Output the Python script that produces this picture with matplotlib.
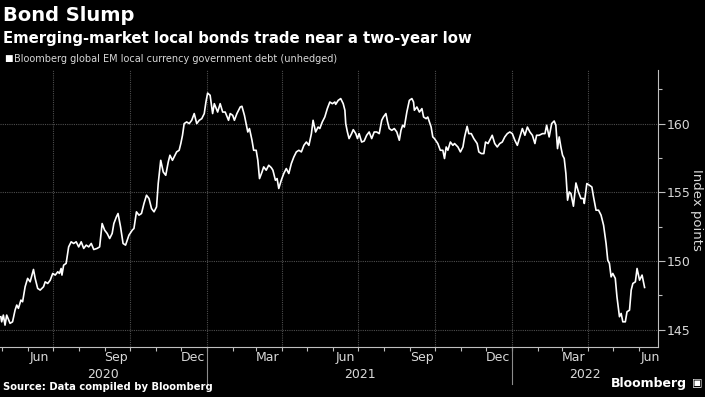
import numpy as np
import pandas as pd
import matplotlib
matplotlib.use("Agg")
import matplotlib.pyplot as plt
import matplotlib.dates as mdates
import matplotlib.transforms as mtransforms
from matplotlib.ticker import MultipleLocator

# Bloomberg global EM local currency government debt (unhedged), index points
dates_2020 = [
    "2020-04-30", "2020-05-01", "2020-05-03", "2020-05-05", "2020-05-07", "2020-05-11", "2020-05-14",
    "2020-05-17", "2020-05-19", "2020-05-21", "2020-05-24", "2020-05-26", "2020-05-29", "2020-06-01",
    "2020-06-04", "2020-06-08", "2020-06-10", "2020-06-13", "2020-06-16", "2020-06-20", "2020-06-22",
    "2020-06-25", "2020-06-28", "2020-07-01", "2020-07-04", "2020-07-07", "2020-07-09", "2020-07-11",
    "2020-07-12", "2020-07-14", "2020-07-17", "2020-07-20", "2020-07-23", "2020-07-26", "2020-07-29",
    "2020-08-01", "2020-08-04", "2020-08-07", "2020-08-10", "2020-08-13", "2020-08-16", "2020-08-19",
    "2020-08-23", "2020-08-26", "2020-08-29", "2020-09-01", "2020-09-04", "2020-09-07", "2020-09-10",
    "2020-09-12", "2020-09-15", "2020-09-17", "2020-09-20", "2020-09-23", "2020-09-26", "2020-09-30",
    "2020-10-04", "2020-10-06", "2020-10-09", "2020-10-12", "2020-10-15", "2020-10-18", "2020-10-21",
    "2020-10-24", "2020-10-27", "2020-10-30", "2020-11-02", "2020-11-04", "2020-11-07", "2020-11-10",
    "2020-11-13", "2020-11-16", "2020-11-18", "2020-11-21", "2020-11-24", "2020-11-26", "2020-11-29",
    "2020-12-01", "2020-12-03", "2020-12-05", "2020-12-08", "2020-12-11", "2020-12-14", "2020-12-17",
    "2020-12-20", "2020-12-23", "2020-12-26", "2020-12-29", "2020-12-31",
]
values_2020 = [
    145.95, 145.58, 146.07, 145.34, 146.07, 145.47, 145.58,
    146.43, 146.80, 146.56, 147.16, 147.04, 148.13, 148.74,
    148.49, 149.39, 148.74, 148.01, 147.89, 148.13, 148.49,
    148.37, 148.61, 149.10, 148.98, 149.22, 149.10, 149.46,
    148.98, 149.70, 149.83, 151.03, 151.40, 151.28, 151.40,
    151.03, 151.40, 150.92, 151.16, 151.03, 151.28, 150.84,
    150.92, 151.03, 152.73, 152.25, 152.01, 151.64, 152.01,
    152.73, 153.21, 153.46, 152.49, 151.28, 151.16, 151.88,
    152.25, 152.37, 153.58, 153.34, 153.46, 154.19, 154.79,
    154.55, 153.82, 153.58, 153.94, 155.64, 157.33, 156.48,
    156.24, 157.21, 157.70, 157.33, 157.70, 157.94, 158.06,
    158.55, 159.15, 160.00, 160.12, 160.00, 160.24, 160.73,
    160.00, 160.24, 160.36, 160.73, 161.57,
]
dates_2021 = [
    "2021-01-02", "2021-01-05", "2021-01-08", "2021-01-10", "2021-01-14", "2021-01-17", "2021-01-20",
    "2021-01-23", "2021-01-27", "2021-01-29", "2021-02-01", "2021-02-03", "2021-02-06", "2021-02-10",
    "2021-02-12", "2021-02-15", "2021-02-17", "2021-02-19", "2021-02-21", "2021-02-24", "2021-02-26",
    "2021-03-01", "2021-03-03", "2021-03-05", "2021-03-08", "2021-03-10", "2021-03-13", "2021-03-16",
    "2021-03-19", "2021-03-21", "2021-03-24", "2021-03-26", "2021-03-28", "2021-03-31", "2021-04-03",
    "2021-04-06", "2021-04-09", "2021-04-12", "2021-04-15", "2021-04-18", "2021-04-21", "2021-04-24",
    "2021-04-27", "2021-04-30", "2021-05-03", "2021-05-06", "2021-05-08", "2021-05-11", "2021-05-14",
    "2021-05-16", "2021-05-19", "2021-05-22", "2021-05-25", "2021-05-28", "2021-05-31", "2021-06-03",
    "2021-06-04", "2021-06-07", "2021-06-10", "2021-06-13", "2021-06-15", "2021-06-16", "2021-06-18",
    "2021-06-20", "2021-06-23", "2021-06-25", "2021-06-28", "2021-06-30", "2021-07-02", "2021-07-05",
    "2021-07-08", "2021-07-11", "2021-07-14", "2021-07-17", "2021-07-20", "2021-07-23", "2021-07-26",
    "2021-07-29", "2021-07-31", "2021-08-03", "2021-08-05", "2021-08-07", "2021-08-10", "2021-08-13",
    "2021-08-16", "2021-08-19", "2021-08-21", "2021-08-23", "2021-08-25", "2021-08-28", "2021-08-31",
    "2021-09-03", "2021-09-05", "2021-09-06", "2021-09-09", "2021-09-12", "2021-09-15", "2021-09-17",
    "2021-09-20", "2021-09-22", "2021-09-26", "2021-09-28", "2021-09-30", "2021-10-04", "2021-10-07",
    "2021-10-10", "2021-10-12", "2021-10-14", "2021-10-16", "2021-10-19", "2021-10-22", "2021-10-24",
    "2021-10-28", "2021-10-31", "2021-11-03", "2021-11-05", "2021-11-08", "2021-11-10", "2021-11-13",
    "2021-11-16", "2021-11-20", "2021-11-22", "2021-11-25", "2021-11-28", "2021-11-30", "2021-12-03",
    "2021-12-06", "2021-12-08", "2021-12-11", "2021-12-14", "2021-12-17", "2021-12-20", "2021-12-23",
    "2021-12-26", "2021-12-29",
]
values_2021 = [
    162.22, 162.06, 160.73, 161.45, 160.84, 161.45, 160.84,
    160.84, 160.24, 160.73, 160.60, 160.24, 160.73, 161.21,
    161.26, 160.60, 160.00, 159.39, 159.64, 158.79, 158.06,
    158.06, 157.33, 156.00, 156.48, 156.85, 156.61, 156.97,
    156.80, 156.61, 155.88, 156.00, 155.28, 155.88, 156.37,
    156.73, 156.37, 157.09, 157.57, 157.94, 158.06, 157.94,
    158.42, 158.66, 158.42, 159.27, 160.24, 159.39, 159.75,
    159.64, 160.12, 160.48, 161.09, 161.57, 161.45, 161.57,
    161.40, 161.69, 161.82, 161.45, 160.97, 160.00, 159.39,
    158.91, 159.27, 159.56, 159.27, 158.91, 159.27, 158.66,
    158.73, 159.15, 159.39, 158.91, 159.39, 159.39, 159.27,
    160.24, 160.48, 160.73, 160.12, 159.64, 159.51, 159.64,
    159.39, 158.79, 159.51, 159.88, 159.75, 160.84, 161.69,
    161.82, 161.57, 160.97, 161.21, 160.84, 161.09, 160.48,
    160.36, 160.48, 159.75, 159.03, 158.91, 158.55, 158.06,
    158.06, 157.46, 158.30, 158.06, 158.66, 158.42, 158.55,
    158.30, 157.94, 158.30, 159.03, 159.80, 159.27, 159.27,
    158.91, 158.55, 157.94, 157.82, 157.82, 158.66, 158.55,
    158.91, 159.15, 158.55, 158.30, 158.55, 158.66, 159.03,
    159.27, 159.39,
]
dates_2022 = [
    "2022-01-01", "2022-01-04", "2022-01-07", "2022-01-10", "2022-01-13", "2022-01-16", "2022-01-19",
    "2022-01-22", "2022-01-25", "2022-01-28", "2022-01-30", "2022-02-02", "2022-02-06", "2022-02-09",
    "2022-02-11", "2022-02-14", "2022-02-17", "2022-02-20", "2022-02-22", "2022-02-24", "2022-02-26",
    "2022-02-28", "2022-03-02", "2022-03-04", "2022-03-06", "2022-03-08", "2022-03-10", "2022-03-12",
    "2022-03-15", "2022-03-18", "2022-03-21", "2022-03-24", "2022-03-27", "2022-03-28", "2022-03-31",
    "2022-04-03", "2022-04-06", "2022-04-08", "2022-04-11", "2022-04-14", "2022-04-17", "2022-04-20",
    "2022-04-23", "2022-04-25", "2022-04-27", "2022-04-29", "2022-05-01", "2022-05-04", "2022-05-06",
    "2022-05-09", "2022-05-11", "2022-05-13", "2022-05-16", "2022-05-18", "2022-05-21", "2022-05-23",
    "2022-05-25", "2022-05-28", "2022-05-30", "2022-06-02", "2022-06-05", "2022-06-08",
]
values_2022 = [
    159.27, 158.79, 158.42, 159.03, 159.64, 159.15, 159.75,
    159.39, 159.15, 158.55, 159.15, 159.15, 159.27, 159.27,
    159.88, 159.03, 160.00, 160.19, 159.88, 158.18, 159.03,
    158.30, 157.70, 157.46, 156.37, 154.43, 155.03, 154.91,
    153.99, 155.68, 155.03, 154.55, 154.55, 154.19, 155.64,
    155.52, 155.39, 154.67, 153.70, 153.70, 153.34, 152.61,
    151.28, 150.07, 149.83, 148.85, 149.10, 148.74, 147.40,
    145.95, 146.19, 145.58, 145.58, 146.31, 146.43, 147.89,
    148.37, 148.49, 149.46, 148.61, 148.98, 148.08,
]

x_start, x_end = "2020-04-29", "2022-06-24"
y_min, y_max = 143.75, 163.9
y_ticks = [145, 150, 155, 160]
years = [2020, 2021, 2022]

dates = pd.to_datetime(dates_2020 + dates_2021 + dates_2022)
values = np.array(values_2020 + values_2021 + values_2022)

BG = "black"
FG = "#d9d9d9"
GRID = "#4d4d4d"

fig = plt.figure(figsize=(7.05, 3.97), dpi=100, facecolor=BG)
ax = fig.add_axes([0.0, 0.126, 0.9333, 0.6977], facecolor=BG)

ax.plot(dates, values, color="white", linewidth=1.2, zorder=3)

x0, x1 = pd.Timestamp(x_start), pd.Timestamp(x_end)
ax.set_xlim(x0, x1)
ax.set_ylim(y_min, y_max)

# grid: horizontal at major y ticks, vertical at quarter starts
for yv in y_ticks:
    ax.axhline(yv, color=GRID, lw=0.8, ls=(0, (1, 1)), zorder=1)
for q in pd.date_range(x0, x1, freq="QS"):
    ax.axvline(q, color=GRID, lw=0.8, ls=(0, (1, 1)), zorder=1)

for side in ["top", "left"]:
    ax.spines[side].set_visible(False)
ax.spines["right"].set_color("#bfbfbf")
ax.spines["bottom"].set_color("#bfbfbf")

# y axis on the right
ax.yaxis.tick_right()
ax.set_yticks(y_ticks)
ax.yaxis.set_minor_locator(MultipleLocator(2.5))
ax.tick_params(axis="y", which="major", colors="#bfbfbf", length=5, width=0.8, pad=1,
               labelcolor=FG, labelsize=9)
ax.tick_params(axis="y", which="minor", colors="#bfbfbf", length=3, width=0.8)
fig.text(0.988, 0.47, "Index points", color=FG, fontsize=9.5, rotation=270,
         ha="center", va="center")

# x axis: tick marks at month boundaries, labels mid-month every quarter
ax.xaxis.set_major_locator(mdates.MonthLocator(bymonthday=1))
ax.xaxis.set_major_formatter(plt.NullFormatter())
ax.xaxis.set_minor_locator(mdates.MonthLocator(bymonth=(3, 6, 9, 12), bymonthday=15))
ax.xaxis.set_minor_formatter(mdates.DateFormatter("%b"))
ax.tick_params(axis="x", which="major", colors="#bfbfbf", length=3, width=0.8)
ax.tick_params(axis="x", which="minor", length=0, pad=3, labelcolor=FG, labelsize=9)

# year labels and separators
trans = mtransforms.blended_transform_factory(ax.transData, ax.transAxes)
for yr in years:
    a = max(pd.Timestamp(f"{yr}-01-01"), x0)
    b = min(pd.Timestamp(f"{yr + 1}-01-01"), x1)
    mid = a + (b - a) / 2
    ax.text(mid, -0.098, str(yr), transform=trans, ha="center", va="center",
            color=FG, fontsize=9)
    if pd.Timestamp(f"{yr}-01-01") > x0:
        ax.plot([a, a], [0, -0.135], transform=trans, color="#8c8c8c", lw=0.8, clip_on=False)

# titles
fig.text(0.004, 0.985, "Bond Slump", color="white", fontsize=14, fontweight="bold",
         ha="left", va="top")
fig.text(0.004, 0.922, "Emerging-market local bonds trade near a two-year low", color="white",
         fontsize=10.7, fontweight="bold", ha="left", va="top")
fig.text(0.006, 0.852, "\u25A0", color="white", fontsize=6.5, ha="left", va="center")
fig.text(0.02, 0.852, "Bloomberg global EM local currency government debt (unhedged)",
         color=FG, fontsize=7, ha="left", va="center")

# footer
fig.text(0.004, 0.013, "Source: Data compiled by Bloomberg", color="white", fontsize=7.2,
         fontweight="bold", ha="left", va="bottom")
fig.text(0.975, 0.018, "Bloomberg", color="white", fontsize=9, fontweight="bold",
         ha="right", va="bottom")
fig.text(0.996, 0.021, "\u25A3", color="white", fontsize=8, ha="right", va="bottom")

fig.savefig("out.png", dpi=100, facecolor=BG)
